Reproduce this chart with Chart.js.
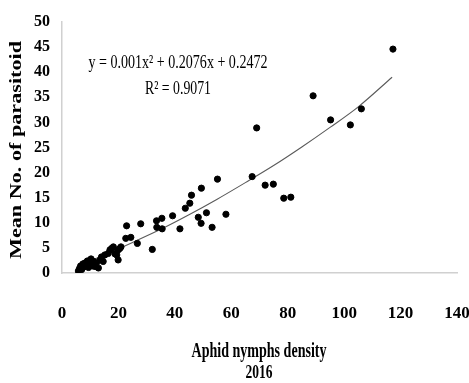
<!DOCTYPE html>
<html>
<head>
<meta charset="utf-8">
<script src="https://cdn.jsdelivr.net/npm/chart.js@4/dist/chart.umd.min.js"></script>
<style>
  html, body { margin: 0; padding: 0; background: #fff; }
  #wrap { width: 469px; height: 383px; position: relative; }
</style>
</head>
<body>
<div id="wrap"><canvas id="c" width="469" height="383"></canvas></div>
<script>
// Observed points (aphid nymph density, mean no. of parasitoid)
const densityX = [5.8, 6.2, 6.6, 7.0, 7.4, 7.8, 8.2, 8.7, 9.0, 9.4, 9.9, 10.3, 10.8, 11.2, 11.7, 12.2, 12.9, 13.5, 14.0, 14.6, 15.2, 16.4, 17.0, 17.6, 18.2, 18.8, 19.4, 19.9, 19.9, 20.5, 20.9,
  22.9, 22.6, 24.4, 26.7, 27.9, 32.0, 33.5, 33.6, 35.4, 35.5, 39.2, 41.8, 43.7, 45.3, 45.9, 48.3, 49.3, 49.4, 51.2, 53.2, 55.1, 58.1, 67.4, 69.0, 72.0, 74.9, 78.6, 81.1, 89.0, 95.2, 102.2, 106.1, 117.3];
const parasitoidY = [0.4, 0.9, 1.4, 0.7, 1.8, 1.2, 2.0, 1.5, 2.4, 1.1, 1.9, 2.8, 1.4, 2.3, 1.3, 2.0, 1.0, 2.6, 3.2, 2.3, 3.6, 3.9, 4.6, 4.9, 5.2, 3.8, 3.6, 2.6, 4.6, 4.9, 5.2,
  9.4, 6.9, 7.1, 5.9, 9.8, 4.7, 10.4, 9.1, 10.9, 8.8, 11.4, 8.8, 12.9, 13.9, 15.5, 11.1, 9.9, 16.9, 12.0, 9.1, 18.7, 11.7, 19.2, 28.9, 17.5, 17.7, 14.9, 15.1, 35.3, 30.5, 29.5, 32.7, 44.6];
// Trend line
const trendX = [6, 15, 25, 35, 45, 55, 65, 75, 85, 95, 105, 117];
const trendY = [1.5, 3.6, 6.1, 8.7, 11.6, 14.7, 18.0, 21.4, 25.1, 29.0, 33.1, 39.0];
const xTicks = [0, 20, 40, 60, 80, 100, 120, 140];
const yTicks = [0, 5, 10, 15, 20, 25, 30, 35, 40, 45, 50];
const equationText = 'y = 0.001x² + 0.2076x + 0.2472';
const r2Text = 'R² = 0.9071';
const xTitleLines = ['Aphid nymphs density', '2016'];
const yTitle = 'Mean No. of parasitoid';

const points = densityX.map((x, i) => ({ x, y: parasitoidY[i] }));
const trend = trendX.map((x, i) => ({ x, y: trendY[i] }));

function fitText(ctx, text, cx, cy, targetW) {
  const w = ctx.measureText(text).width;
  const s = targetW / w;
  ctx.save();
  ctx.translate(cx, cy);
  ctx.scale(s, 1);
  ctx.textAlign = 'center';
  ctx.textBaseline = 'middle';
  ctx.fillText(text, 0, 0);
  ctx.restore();
}

const textPlugin = {
  id: 'texts',
  afterDraw(chart) {
    const ctx = chart.ctx;
    ctx.save();
    ctx.fillStyle = '#000';
    // equation
    ctx.font = '19px "Liberation Serif"';
    fitText(ctx, equationText, 178, 63, 179);
    fitText(ctx, r2Text, 178, 89, 66);
    // x title
    ctx.font = 'bold 20px "Liberation Serif"';
    fitText(ctx, xTitleLines[0], 259, 352, 135);
    ctx.font = 'bold 18px "Liberation Serif"';
    fitText(ctx, xTitleLines[1], 259, 373, 27);
    // y title
    ctx.save();
    ctx.translate(17, 150);
    ctx.rotate(-Math.PI / 2);
    ctx.font = 'bold 17px "Liberation Serif"';
    fitText(ctx, yTitle, 0, 0, 218);
    ctx.restore();
    ctx.restore();
  }
};

new Chart(document.getElementById('c'), {
  type: 'scatter',
  data: {
    datasets: [
      {
        label: 'Observed',
        data: points,
        backgroundColor: '#000',
        borderColor: '#000',
        pointRadius: 3.1,
        pointHoverRadius: 3.1,
        order: 1
      },
      {
        label: 'Trend',
        type: 'line',
        data: trend,
        borderColor: '#5a5a5a',
        borderWidth: 1.1,
        pointRadius: 0,
        fill: false,
        tension: 0.4,
        cubicInterpolationMode: 'monotone',
        order: 2
      }
    ]
  },
  options: {
    responsive: false,
    animation: false,
    devicePixelRatio: 1,
    layout: { padding: { top: 22, right: 12, left: 0, bottom: 0 } },
    plugins: { legend: { display: false }, tooltip: { enabled: false } },
    scales: {
      x: {
        type: 'linear',
        min: 0, max: 140,
        afterBuildTicks: (s) => { s.ticks = xTicks.map(v => ({ value: v })); },
        afterFit: (s) => { s.height = 110; s.paddingLeft = 0; s.paddingRight = 0; },
        grid: { display: false, drawTicks: true, tickLength: 8 },
        border: { display: true, color: '#d0d0d0', width: 1.5 },
        ticks: { color: '#000', padding: 22, maxRotation: 0, font: { family: '"Liberation Serif"', size: 17, weight: 'bold' } }
      },
      y: {
        type: 'linear',
        min: 0, max: 50,
        afterBuildTicks: (s) => { s.ticks = yTicks.map(v => ({ value: v })); },
        afterFit: (s) => { s.width = 62; s.paddingTop = 0; s.paddingBottom = 0; },
        grid: { display: false, drawTicks: true, tickLength: 8 },
        border: { display: true, color: '#d0d0d0', width: 1.5 },
        ticks: { color: '#000', padding: 4, font: { family: '"Liberation Serif"', size: 16, weight: 'bold' } }
      }
    }
  },
  plugins: [textPlugin]
});
</script>
</body>
</html>
